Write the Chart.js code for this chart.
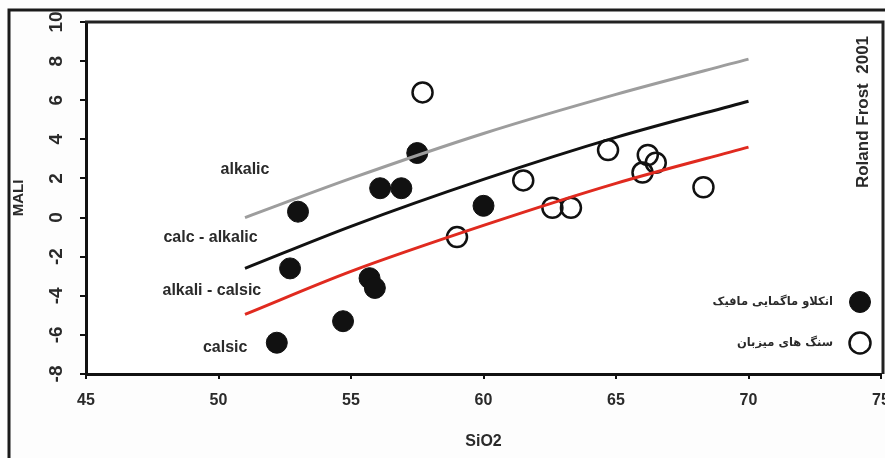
<!DOCTYPE html>
<html>
<head>
<meta charset="utf-8">
<script src="https://cdn.jsdelivr.net/npm/chart.js@4.4.1/dist/chart.umd.min.js"></script>
<style>
  body { margin: 0; background: #fdfdfd; }
  canvas { display: block; }
</style>
</head>
<body>
<canvas id="maliChart" width="885" height="458"></canvas>
<script>
// boundary curves
const curveSiO2 = [51, 55, 60, 65, 70];
const alkalicLine = [0.0, 2.0, 4.3, 6.3, 8.1];
const calcAlkalicLine = [-2.6, -0.45, 1.95, 4.1, 5.95];
const calcicLine = [-4.95, -2.75, -0.4, 1.75, 3.6];

// mafic enclaves (filled)
const enclaveSiO2 = [52.2, 52.7, 53.0, 54.7, 55.7, 55.9, 56.1, 56.9, 57.5, 60.0];
const enclaveMALI = [-6.4, -2.6, 0.3, -5.3, -3.1, -3.6, 1.5, 1.5, 3.3, 0.6];

// host rocks (open)
const hostSiO2 = [57.7, 59.0, 61.5, 62.6, 63.3, 64.7, 66.0, 66.2, 66.5, 68.3];
const hostMALI = [6.4, -1.0, 1.9, 0.5, 0.5, 3.45, 2.3, 3.2, 2.8, 1.55];

const legendLabels = ['انکلاو ماگمایی مافیک', 'سنگ های میزبان'];
const fieldNames = ['alkalic', 'calc - alkalic', 'alkali - calsic', 'calsic'];
const fieldSiO2 = [51.0, 49.7, 49.75, 50.25];
const fieldMALI = [2.45, -1.0, -3.75, -6.65];

const textColor = '#2a2a2a';

function toPoints(xs, ys) {
    return xs.map((x, i) => ({ x: x, y: ys[i] }));
}

const decorations = {
    id: 'decorations',
    beforeDraw(chart) {
        const ctx = chart.ctx;
        const a = chart.chartArea;
        ctx.save();
        ctx.fillStyle = '#ffffff';
        ctx.fillRect(a.left, a.top, a.right - a.left, a.bottom - a.top);
        ctx.restore();
    },
    afterDraw(chart) {
        const ctx = chart.ctx;
        const a = chart.chartArea;
        const xs = chart.scales.x;
        const ys = chart.scales.y;
        ctx.save();

        // outer frame
        ctx.strokeStyle = '#1a1a1a';
        ctx.lineWidth = 3;
        ctx.beginPath();
        ctx.moveTo(9, 458);
        ctx.lineTo(9, 10);
        ctx.lineTo(885, 10);
        ctx.stroke();

        // plot box top and right
        ctx.lineWidth = 3;
        ctx.strokeStyle = '#222';
        ctx.beginPath();
        ctx.moveTo(a.left - 1, a.top);
        ctx.lineTo(a.right + 2, a.top);
        ctx.lineTo(a.right + 2, a.bottom);
        ctx.stroke();

        // rotated y tick labels
        ctx.fillStyle = textColor;
        ctx.font = 'bold 19px "Liberation Sans", Arial, sans-serif';
        ctx.textAlign = 'center';
        ctx.textBaseline = 'middle';
        ys.ticks.forEach(t => {
            ctx.save();
            ctx.translate(57, ys.getPixelForValue(t.value));
            ctx.rotate(-Math.PI / 2);
            ctx.fillText(String(t.value), 0, 0);
            ctx.restore();
        });

        // field names
        ctx.font = 'bold 16px "Liberation Sans", Arial, sans-serif';
        fieldNames.forEach((name, i) => {
            ctx.fillText(name, xs.getPixelForValue(fieldSiO2[i]), ys.getPixelForValue(fieldMALI[i]));
        });

        // source note
        ctx.save();
        ctx.translate(863, 112);
        ctx.rotate(-Math.PI / 2);
        ctx.font = 'bold 17px "Liberation Sans", Arial, sans-serif';
        ctx.fillText('Roland Frost  2001', 0, 0);
        ctx.restore();

        // legend
        const rows = [302, 343];
        chart.data.datasets.slice(3).forEach((ds, i) => {
            ctx.beginPath();
            ctx.arc(860, rows[i], 10.5, 0, Math.PI * 2);
            ctx.fillStyle = ds.backgroundColor;
            ctx.fill();
            ctx.lineWidth = ds.borderWidth;
            ctx.strokeStyle = ds.borderColor;
            ctx.stroke();
            ctx.fillStyle = textColor;
            ctx.font = 'bold 11.5px "DejaVu Sans", sans-serif';
            ctx.textAlign = 'right';
            ctx.direction = 'rtl';
            ctx.fillText(legendLabels[i], 833, rows[i]);
            ctx.direction = 'ltr';
            ctx.textAlign = 'center';
        });
        ctx.restore();
    }
};

const curveStyle = {
    type: 'line',
    pointRadius: 0,
    borderWidth: 3,
    fill: false,
    cubicInterpolationMode: 'monotone',
    order: 0
};

new Chart(document.getElementById('maliChart'), {
    type: 'scatter',
    data: {
        datasets: [
            Object.assign({ label: 'alkalic', data: toPoints(curveSiO2, alkalicLine), borderColor: '#9d9d9d' }, curveStyle),
            Object.assign({ label: 'calc-alkalic', data: toPoints(curveSiO2, calcAlkalicLine), borderColor: '#111111' }, curveStyle),
            Object.assign({ label: 'calcic', data: toPoints(curveSiO2, calcicLine), borderColor: '#e02a1f' }, curveStyle),
            {
                label: legendLabels[0],
                data: toPoints(enclaveSiO2, enclaveMALI),
                backgroundColor: '#111111',
                borderColor: '#111111',
                borderWidth: 1,
                pointRadius: 10.5,
                order: 1
            },
            {
                label: legendLabels[1],
                data: toPoints(hostSiO2, hostMALI),
                backgroundColor: 'rgba(255,255,255,0)',
                borderColor: '#111111',
                borderWidth: 2.5,
                pointRadius: 10,
                order: 1
            }
        ]
    },
    options: {
        responsive: false,
        animation: false,
        layout: { autoPadding: false, padding: { top: 22, right: 4, left: 0, bottom: 0 } },
        plugins: {
            legend: { display: false },
            tooltip: { enabled: false }
        },
        scales: {
            x: {
                min: 45,
                max: 75,
                afterFit: s => { s.height = 84; s.paddingLeft = 0; s.paddingRight = 0; },
                border: { display: true, width: 3, color: '#111' },
                grid: { drawOnChartArea: false, drawTicks: true, tickLength: 5, color: '#111', lineWidth: 2 },
                ticks: {
                    stepSize: 5,
                    padding: 12,
                    color: textColor,
                    font: { family: '"Liberation Sans", Arial, sans-serif', size: 16, weight: 'bold' }
                },
                title: {
                    display: true,
                    text: 'SiO2',
                    color: textColor,
                    padding: { top: 0, bottom: 7 },
                    font: { family: '"Liberation Sans", Arial, sans-serif', size: 16, weight: 'bold' }
                }
            },
            y: {
                min: -8,
                max: 10,
                afterFit: s => { s.width = 86; s.paddingTop = 0; s.paddingBottom = 0; },
                border: { display: true, width: 3, color: '#111' },
                grid: { drawOnChartArea: false, drawTicks: true, tickLength: 6, color: '#111', lineWidth: 2 },
                ticks: {
                    stepSize: 2,
                    color: 'rgba(0,0,0,0)',
                    font: { size: 18, weight: 'bold' }
                },
                title: {
                    display: true,
                    text: 'MALI',
                    color: textColor,
                    padding: { top: 10, bottom: 0 },
                    font: { family: '"Liberation Sans", Arial, sans-serif', size: 15, weight: 'bold' }
                }
            }
        }
    },
    plugins: [decorations]
});
</script>
</body>
</html>
